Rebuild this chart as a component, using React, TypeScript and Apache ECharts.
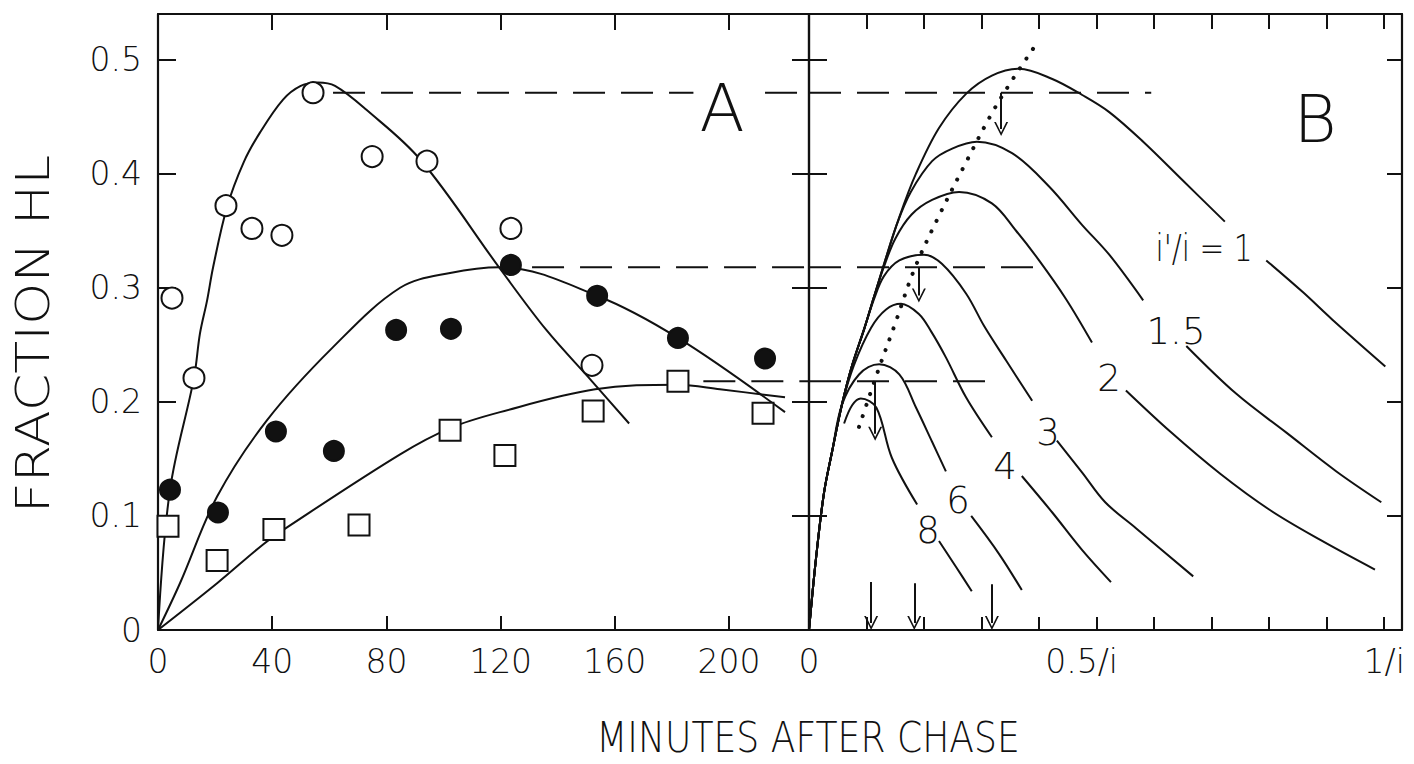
import React, { useEffect, useRef } from "react";
import * as echarts from "echarts";

const FONT = '"DejaVu Sans", "Liberation Sans", sans-serif';
const INK = "#111";

// ---------- Panel A: fraction HL against minutes after chase ----------
const MINUTE_TICKS = [0, 40, 80, 120, 160, 200];
const FRACTION_TICKS = [0, 0.1, 0.2, 0.3, 0.4, 0.5];
const MINUTES_MAX = 228;
const FRACTION_MAX = 0.54;

// measured points [minutes, fraction]
const openCircles = [
  [4.9, 0.291], [12.6, 0.221], [23.8, 0.372], [32.9, 0.352], [43.4, 0.346],
  [54.3, 0.471], [75.0, 0.415], [94.2, 0.411], [123.6, 0.352], [152.0, 0.232],
];
const filledCircles = [
  [4.2, 0.123], [21.0, 0.103], [41.3, 0.174], [61.6, 0.157], [83.4, 0.263],
  [102.6, 0.264], [123.6, 0.32], [153.8, 0.293], [182.1, 0.256], [212.6, 0.238],
];
const openSquares = [
  [3.5, 0.091], [20.7, 0.061], [40.6, 0.088], [70.4, 0.092], [102.3, 0.175],
  [121.5, 0.153], [152.4, 0.192], [182.1, 0.218], [211.9, 0.19],
];

// fitted curves through each set
const fitOpen = [
  [0, 0], [4.2, 0.123], [12.6, 0.221], [14.7, 0.26], [17.2, 0.289], [19.3, 0.318],
  [24.2, 0.371], [30, 0.41], [35.7, 0.436], [43.8, 0.465], [50, 0.477], [56, 0.48],
  [62, 0.477], [73, 0.456], [92, 0.412], [120, 0.316], [136, 0.263], [152, 0.218],
  [165, 0.181],
];
const fitFilled = [
  [0, 0], [7.7, 0.041], [20.7, 0.117], [38.2, 0.184], [61.3, 0.248], [84.8, 0.3],
  [102.3, 0.313], [119.8, 0.318], [153.8, 0.293], [182.1, 0.256], [219.6, 0.191],
];
const fitSquare = [
  [0, 0], [20.7, 0.041], [36.8, 0.075], [45.2, 0.09], [84.8, 0.154], [102.3, 0.177],
  [119.8, 0.191], [153.1, 0.211], [182.1, 0.215], [196.8, 0.211], [219.6, 0.204],
];

// peak heights carried across from A into B
const PEAK_LEVELS = [0.471, 0.318, 0.218];
const LEVEL_START_A = [61.3, 131, 191];
const LEVEL_END_B = [0.595, 0.417, 0.31];

// ---------- Panel B: model curves against time in units of 1/i ----------
const B_MAX = 1.031;
const B_LABEL_VALUES = [0, 0.5, 1];
const B_LABEL_TEXTS = ["0", "0.5/i", "1/i"];

const ratio1 = [
  [[0, 0], [0.012, 0.062], [0.026, 0.12], [0.04, 0.156], [0.057, 0.197], [0.075, 0.232],
   [0.096, 0.264], [0.113, 0.292], [0.13, 0.32], [0.157, 0.362], [0.186, 0.4],
   [0.226, 0.44], [0.273, 0.47], [0.318, 0.486], [0.365, 0.492], [0.423, 0.483],
   [0.475, 0.469], [0.522, 0.454], [0.581, 0.428], [0.65, 0.394], [0.723, 0.358]],
  [[0.795, 0.324], [0.859, 0.296], [0.91, 0.272], [1.002, 0.231]],
];
const ratio1p5 = [
  [[0, 0], [0.012, 0.062], [0.026, 0.12], [0.04, 0.156], [0.057, 0.197], [0.075, 0.232],
   [0.096, 0.264], [0.113, 0.292], [0.13, 0.32], [0.153, 0.356], [0.177, 0.384],
   [0.214, 0.411], [0.249, 0.422], [0.292, 0.428], [0.353, 0.418], [0.417, 0.389],
   [0.475, 0.355], [0.522, 0.329], [0.581, 0.289]],
  [[0.656, 0.249], [0.743, 0.207], [0.83, 0.173], [0.917, 0.139], [0.995, 0.112]],
];
const ratio2 = [
  [[0, 0], [0.012, 0.062], [0.026, 0.12], [0.04, 0.156], [0.057, 0.197], [0.075, 0.232],
   [0.096, 0.264], [0.113, 0.292], [0.13, 0.318], [0.15, 0.343], [0.178, 0.364],
   [0.214, 0.377], [0.261, 0.384], [0.318, 0.374], [0.36, 0.35], [0.4, 0.324],
   [0.447, 0.29], [0.492, 0.252]],
  [[0.551, 0.21], [0.628, 0.174], [0.715, 0.137], [0.802, 0.105], [0.889, 0.079],
   [0.984, 0.053]],
];
const ratio3 = [
  [[0, 0], [0.012, 0.062], [0.026, 0.12], [0.04, 0.156], [0.057, 0.197], [0.075, 0.232],
   [0.096, 0.264], [0.113, 0.29], [0.13, 0.31], [0.157, 0.324], [0.2, 0.329],
   [0.231, 0.321], [0.273, 0.295], [0.305, 0.266], [0.343, 0.236], [0.388, 0.201]],
  [[0.431, 0.166], [0.475, 0.138], [0.515, 0.112], [0.569, 0.089], [0.668, 0.047]],
];
const ratio4 = [
  [[0, 0], [0.012, 0.062], [0.026, 0.12], [0.04, 0.156], [0.057, 0.197], [0.078, 0.232],
   [0.108, 0.265], [0.134, 0.281], [0.16, 0.286], [0.191, 0.277], [0.212, 0.262],
   [0.238, 0.239], [0.273, 0.204], [0.318, 0.169]],
  [[0.37, 0.135], [0.423, 0.103], [0.475, 0.07], [0.525, 0.042]],
];
const ratio6 = [
  [[0, 0], [0.012, 0.062], [0.026, 0.12], [0.04, 0.156], [0.057, 0.197], [0.087, 0.224],
   [0.122, 0.233], [0.157, 0.224], [0.186, 0.195], [0.214, 0.165], [0.238, 0.139]],
  [[0.282, 0.1], [0.33, 0.067], [0.37, 0.035]],
];
const ratio8 = [
  [[0.061, 0.181], [0.075, 0.197], [0.09, 0.203], [0.117, 0.195], [0.144, 0.151],
   [0.188, 0.11]],
  [[0.226, 0.078], [0.256, 0.055], [0.283, 0.034]],
];
const B_CURVES = [ratio1, ratio1p5, ratio2, ratio3, ratio4, ratio6, ratio8];
const CURVE_LABELS = ["i'/i = 1", "1.5", "2", "3", "4", "6", "8"];
const CURVE_LABEL_SPOTS = [
  [1204, 248], [1176, 331], [1109, 378], [1048, 432], [1005, 466], [958, 500], [928, 530],
];

// locus of the maxima
const peakLocus = [
  [0.087, 0.178], [0.122, 0.23], [0.148, 0.266], [0.183, 0.316], [0.223, 0.36],
  [0.27, 0.407], [0.318, 0.453], [0.357, 0.485], [0.393, 0.512],
];

// arrows [x, from, to]
const levelArrows = [
  [0.334, 0.471, 0.433], [0.191, 0.318, 0.287], [0.115, 0.218, 0.166],
];
const axisArrows = [
  [0.108, 0.042, 0], [0.183, 0.041, 0], [0.318, 0.04, 0],
];

const PX_PER_UNIT = 616 / FRACTION_MAX;
const ARROW_HEAD = "path://M0,14 L7,0 L14,14 L12.2,14 L7,3.6 L1.8,14 Z";

function tickLabel(v: number, ticks: number[], fmt: (t: number) => string) {
  const t = ticks.find((k) => Math.abs(k - v) < 1e-6);
  return t === undefined ? "" : fmt(t);
}

function curve(data: number[][], grid: number, extra: any = {}) {
  return {
    type: "line",
    xAxisIndex: grid * 2,
    yAxisIndex: grid * 2,
    data,
    symbol: "none",
    smooth: 0.35,
    silent: true,
    z: 2,
    lineStyle: { color: INK, width: 2 },
    ...extra,
  };
}

const axisLineStyle = { show: true, onZero: false, lineStyle: { color: INK, width: 2.2 } };
const tickStyle = (len: number) => ({
  show: true,
  inside: true,
  length: len,
  lineStyle: { color: INK, width: 2 },
});
const labelFont = { color: INK, fontFamily: FONT, fontWeight: 200, fontSize: 33 };

function buildOption() {
  const series: any[] = [];

  [fitOpen, fitFilled, fitSquare].forEach((d) => series.push(curve(d, 0)));

  PEAK_LEVELS.forEach((lv, i) => {
    const dash = { lineStyle: { color: INK, width: 2, type: [32, 16] }, smooth: false };
    series.push(curve([[LEVEL_START_A[i], lv], [MINUTES_MAX, lv]], 0, dash));
    series.push(curve([[0, lv], [LEVEL_END_B[i], lv]], 1, dash));
  });

  B_CURVES.forEach((segs) => segs.forEach((seg) => series.push(curve(seg, 1))));

  const lift = 7 / PX_PER_UNIT;
  const arrowLines = [...levelArrows, ...axisArrows].map(([x, y0, y1]) => [
    { coord: [x, y0] },
    { coord: [x, y1 + lift] },
  ]);

  series.push(
    curve(peakLocus, 1, {
      lineStyle: { color: INK, width: 4, type: [0.1, 11.5], cap: "round" },
      markLine: {
        silent: true,
        animation: false,
        symbol: ["none", ARROW_HEAD],
        symbolSize: [14, 14],
        label: { show: false },
        lineStyle: { color: INK, width: 2, type: "solid" },
        emphasis: { disabled: true },
        data: arrowLines,
      },
    })
  );

  const scatter = (data: number[][], symbol: string, fill: string, size: number) => ({
    type: "scatter",
    xAxisIndex: 0,
    yAxisIndex: 0,
    data,
    symbol,
    symbolSize: size,
    silent: true,
    z: 5,
    itemStyle: { color: fill, borderColor: INK, borderWidth: 2, opacity: 1 },
  });
  series.push(scatter(openCircles, "circle", "#fff", 21));
  series.push(scatter(filledCircles, "circle", INK, 20));
  series.push(scatter(openSquares, "rect", "#fff", 21));

  const textEl = (text: string, x: number, y: number, size: number, extra: any = {}, style: any = {}) => ({
    type: "text",
    x,
    y,
    silent: true,
    z: 10,
    ...extra,
    style: {
      text,
      fill: INK,
      fontFamily: FONT,
      fontWeight: 200,
      fontSize: size,
      align: "center",
      verticalAlign: "middle",
      ...style,
    },
  });

  const graphic: any[] = [
    textEl("FRACTION HL", 33, 334, 46, { rotation: Math.PI / 2, scaleX: 1.17 }),
    textEl("MINUTES AFTER CHASE", 808, 738, 42, { scaleX: 0.86 }),
    textEl("A", 722, 108, 66, {}, { backgroundColor: "#fff", padding: [0, 6] }),
    textEl("B", 1315, 119, 66),
    ...CURVE_LABELS.map((t, i) =>
      textEl(t, CURVE_LABEL_SPOTS[i][0], CURVE_LABEL_SPOTS[i][1], 37,
        i === 0 ? { scaleX: 0.8 } : {})
    ),
  ];

  return {
    animation: false,
    backgroundColor: "#fff",
    grid: [
      { left: 158, top: 14, width: 651, height: 616 },
      { left: 809, top: 14, width: 593, height: 616 },
    ],
    xAxis: [
      {
        gridIndex: 0, type: "value", position: "bottom", min: 0, max: MINUTES_MAX, interval: 40,
        axisLine: axisLineStyle, axisTick: tickStyle(14), splitLine: { show: false },
        axisLabel: {
          ...labelFont, margin: 15, showMaxLabel: false,
          formatter: (v: number) => tickLabel(v, MINUTE_TICKS, (t) => String(t)),
        },
      },
      {
        gridIndex: 0, type: "value", position: "top", min: 0, max: MINUTES_MAX, interval: 40,
        axisLine: axisLineStyle, axisTick: tickStyle(16), splitLine: { show: false },
        axisLabel: { show: false },
      },
      {
        gridIndex: 1, type: "value", position: "bottom", min: 0, max: B_MAX, interval: 0.1,
        axisLine: axisLineStyle, axisTick: tickStyle(13), splitLine: { show: false },
        axisLabel: {
          ...labelFont, margin: 15, showMaxLabel: false,
          rich: { mid: { ...labelFont, padding: [0, 30, 0, 0] } },
          formatter: (v: number) => {
            const i = B_LABEL_VALUES.findIndex((k) => Math.abs(k - v) < 1e-6);
            if (i < 0) return "";
            return i === 1 ? `{mid|${B_LABEL_TEXTS[i]}}` : B_LABEL_TEXTS[i];
          },
        },
      },
      {
        gridIndex: 1, type: "value", position: "top", min: 0, max: B_MAX, interval: 0.1,
        axisLine: axisLineStyle, axisTick: tickStyle(15), splitLine: { show: false },
        axisLabel: { show: false },
      },
    ],
    yAxis: [
      {
        gridIndex: 0, type: "value", position: "left", min: 0, max: FRACTION_MAX, interval: 0.1,
        axisLine: axisLineStyle, axisTick: tickStyle(18), splitLine: { show: false },
        axisLabel: {
          ...labelFont, margin: 16, showMaxLabel: false,
          formatter: (v: number) =>
            tickLabel(v, FRACTION_TICKS, (t) => (t === 0 ? "0" : t.toFixed(1))),
        },
      },
      {
        gridIndex: 0, type: "value", position: "right", min: 0, max: FRACTION_MAX, interval: 0.1,
        axisLine: axisLineStyle, axisTick: tickStyle(17), splitLine: { show: false },
        axisLabel: { show: false },
      },
      {
        gridIndex: 1, type: "value", position: "left", min: 0, max: FRACTION_MAX, interval: 0.1,
        axisLine: axisLineStyle, axisTick: tickStyle(18), splitLine: { show: false },
        axisLabel: { show: false },
      },
      {
        gridIndex: 1, type: "value", position: "right", min: 0, max: FRACTION_MAX, interval: 0.1,
        axisLine: axisLineStyle, axisTick: tickStyle(15), splitLine: { show: false },
        axisLabel: { show: false },
      },
    ],
    series,
    graphic,
  };
}

export default function App() {
  const ref = useRef<HTMLDivElement>(null);
  useEffect(() => {
    if (!ref.current) return;
    const chart = echarts.init(ref.current, null, { renderer: "svg" });
    chart.setOption(buildOption() as any);
    return () => chart.dispose();
  }, []);
  return (
    <div
      ref={ref}
      style={{ position: "fixed", left: 0, top: 0, width: 1414, height: 764, background: "#fff" }}
    />
  );
}
